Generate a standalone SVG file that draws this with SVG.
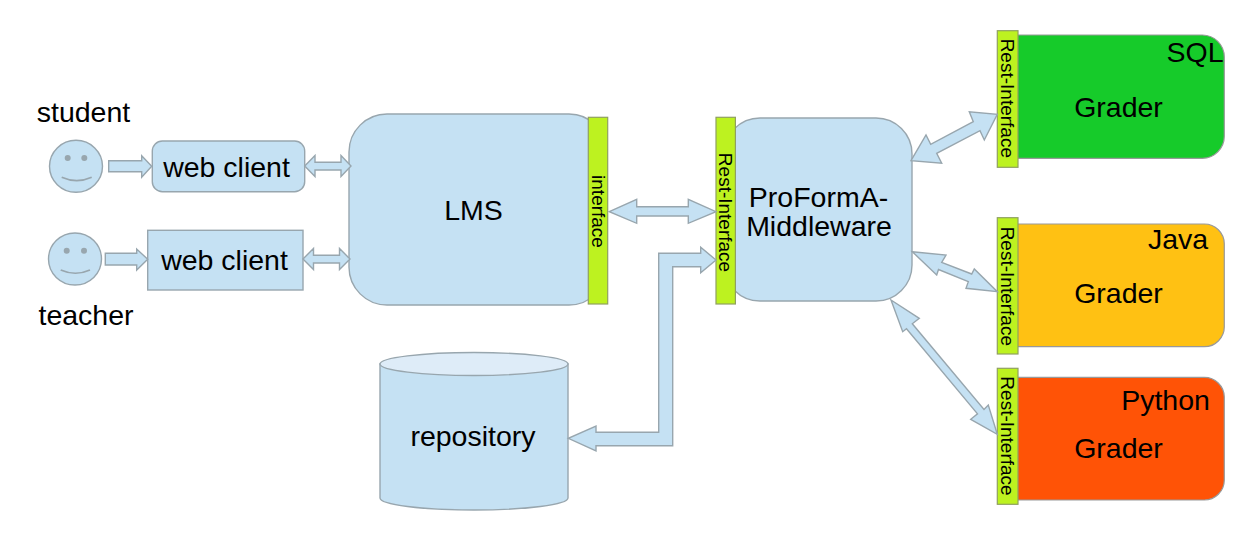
<svg xmlns="http://www.w3.org/2000/svg" width="1233" height="550" viewBox="0 0 1233 550">
<style>
text{font-family:"Liberation Sans",Arial,sans-serif;font-size:28.500px;fill:#000}
.c{text-anchor:middle}
.b{fill:#c5e1f3;stroke:#98a6ae;stroke-width:1.4}
.bar{fill:#bdf220;stroke:#8fa060;stroke-width:1.2}
.v{font-size:19px;text-anchor:middle}
.g{stroke:#999;stroke-width:1.2}
.m{fill:none;stroke:#98a6ae;stroke-width:1.6}
.e{fill:#98a6ae}
</style>
<g id="student">
<ellipse class="b" cx="76" cy="166.300" rx="26.500" ry="26"/>
<circle class="e" cx="67.700" cy="158" r="3"/><circle class="e" cx="84.300" cy="158" r="3"/>
<path class="m" d="M61.700 177.300Q76.700 184 91.700 177.300"/>
<text x="83.500" y="121.700" class="c">student</text>
</g>
<g id="teacher">
<ellipse class="b" cx="75" cy="259" rx="26.500" ry="26"/>
<circle class="e" cx="66.700" cy="250.700" r="3"/><circle class="e" cx="84" cy="250.700" r="3"/>
<path class="m" d="M60.700 270Q75.500 276.500 90 270"/>
<text x="86" y="325" class="c">teacher</text>
</g>
<g id="webclient1">
<rect class="b" x="152.300" y="141" width="152.400" height="50.700" rx="10"/>
<text x="226.500" y="176.500" class="c">web client</text>
</g>
<g id="webclient2">
<rect class="b" x="147.700" y="230.300" width="155.300" height="59.700"/>
<text x="224.500" y="270" class="c">web client</text>
</g>
<g id="lms">
<rect class="b" x="349" y="114" width="258" height="191" rx="38"/>
<rect class="bar" x="588.300" y="117.300" width="19.400" height="186.700"/>
<text x="473.500" y="220" class="c">LMS</text>
<text class="v" transform="translate(591.500 211.500) rotate(90)">interface</text>
</g>
<g id="middleware">
<rect class="b" x="724" y="118" width="188" height="183" rx="36"/>
<rect class="bar" x="716" y="117.300" width="19.400" height="186.700"/>
<text x="818.500" y="207" class="c">ProFormA-</text>
<text x="819" y="236" class="c">Middleware</text>
<text class="v" transform="translate(719 212.500) rotate(90)">Rest-Interface</text>
</g>
<g id="repository">
<path class="b" d="M380 364V498A94 12 0 0 0 568 498V364Z"/>
<ellipse cx="474" cy="364" rx="94" ry="11.500" fill="#deecf8" stroke="#98a6ae" stroke-width="1.400"/>
<text x="473" y="446" class="c">repository</text>
</g>
<g id="grader-sql">
<path class="g" fill="#16cb2a" d="M1010 35H1202A22 22 0 0 1 1224.300 57V136A22 22 0 0 1 1202 158.300H1010Z"/>
<rect class="bar" x="997.300" y="30.700" width="20.700" height="136.600"/>
<text x="1195" y="62" class="c">SQL</text>
<text x="1118.500" y="116.700" class="c">Grader</text>
<text class="v" transform="translate(1001 98.300) rotate(90)">Rest-Interface</text>
</g>
<g id="grader-java">
<path class="g" fill="#ffc113" d="M1010 224H1204A20 20 0 0 1 1224.300 244V326A20 20 0 0 1 1204 346.700H1010Z"/>
<rect class="bar" x="997.300" y="217.700" width="20.700" height="136.300"/>
<text x="1178" y="248.500" class="c">Java</text>
<text x="1118.500" y="303" class="c">Grader</text>
<text class="v" transform="translate(1001 286.300) rotate(90)">Rest-Interface</text>
</g>
<g id="grader-python">
<path class="g" fill="#ff5306" d="M1010 377.300H1204A20 20 0 0 1 1224.300 397V480A20 20 0 0 1 1204 500H1010Z"/>
<rect class="bar" x="997.300" y="368.300" width="20.700" height="136"/>
<text x="1165.500" y="410" class="c">Python</text>
<text x="1118.500" y="457.500" class="c">Grader</text>
<text class="v" transform="translate(1001 436) rotate(90)">Rest-Interface</text>
</g>
<g id="connectors">
<path class="b" d="M108.700 160.700H141.700V155.700L151.700 166.300L141.700 177.300V171.700H108.700Z"/>
<path class="b" d="M105.300 253.300H136.700V249L147.700 259.300L136.700 270V265H105.300Z"/>
<path class="b" d="M304.700 166L315 155.500V162.200H341V155.500L351 166L341 176.500V170H315V176.500Z"/>
<path class="b" d="M303 259L313.500 248.500V255.200H339.500V248.500L350 259L339.500 269.500V263H313.500V269.500Z"/>
<path class="b" d="M609.300 211.700L636.700 199.300V206.700H688.300V199.300L716 211.700L688.300 223.300V216H636.700V223.300Z"/>
<path class="b" d="M716 260L700.700 247.300V253.300H658.700V432.300H596V426L568.300 438.300L596 451V445.700H672.700V266.700H700.700V272.700Z"/>
<path class="b" d="M911 160.700L926 135L930.700 144.300L973.300 121.700L969.300 111.700L997.300 114.300L984.300 140L980 130.700L936.700 153.300L941.700 163.300Z"/>
<path class="b" d="M912.300 251.700L946 255L941.700 262.300L971.700 274L974.300 269L997.300 291.700L966 288.300L968.300 281.700L938.500 269.500L936.700 275Z"/>
<path class="b" d="M891 300L919.300 318.300L912.300 323.800L984 409.500L988.300 405L997.300 434.300L970.700 419.300L977.500 413.800L906.500 328.800L902.700 331.700Z"/>
</g>
</svg>
